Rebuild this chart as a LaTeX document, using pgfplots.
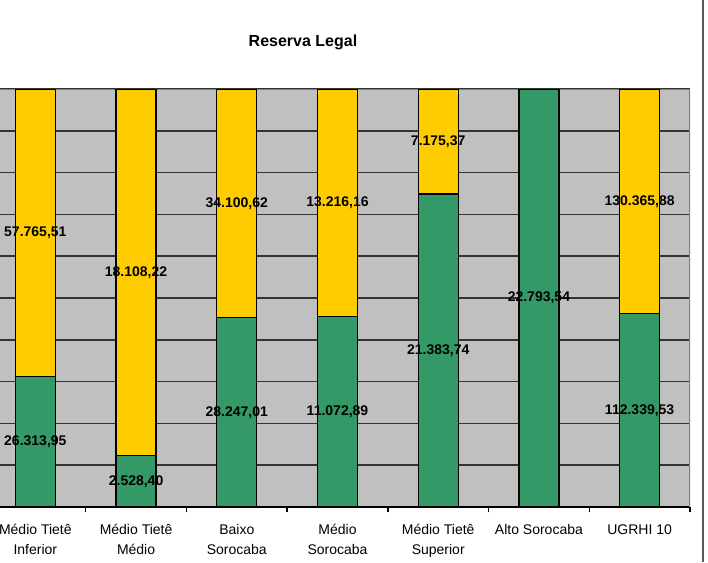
\documentclass[border=0pt]{standalone}
\usepackage{pgfplots}
\pgfplotsset{compat=1.18}
\usepackage{pgfplotstable}
\usepackage{fontspec}
\setmainfont{Liberation Sans}

\definecolor{amarelo}{HTML}{FFCC00}
\definecolor{verde}{HTML}{339966}
\definecolor{fundo}{HTML}{C0C0C0}

% hectares por UGRHI: verde = averbada, amarelo = a averbar
\pgfplotstableread{
idx verde amarelo
0 26313.95 57765.51
1 2528.40 18108.22
2 28247.01 34100.62
3 11072.89 13216.16
4 21383.74 7175.37
5 22793.54 0
6 112339.53 130365.88
}\dados

\pgfplotsset{
  base/.style={
    scale only axis,
    width=528.75pt, height=313.5pt,
    at={(-11.25pt,41.25pt)}, anchor=south west,
    xmin=-0.5, xmax=6.5, ymin=0, ymax=100,
  },
}
\newcommand{\al}{\vphantom{Ê}}

\begin{document}
\begin{tikzpicture}[x=0.75pt, y=0.75pt]
\path[use as bounding box, fill=white] (0,0) rectangle (708,562);

\begin{axis}[
  base,
  ybar stacked,
  bar width=30pt,
  axis background/.style={fill=fundo},
  ymajorgrids=true,
  ytick={0,10,...,100},
  yticklabels={},
  major y tick style={draw=none},
  major grid style={black!80, line width=1.1pt},
  axis x line*=bottom,
  axis y line*=left,
  y axis line style={draw=none},
  xtick={0,...,6},
  xticklabels={{\al Médio Tietê\\Inferior},{\al Médio Tietê\\Médio},{\al Baixo\\Sorocaba},{\al Médio\\Sorocaba},{\al Médio Tietê\\Superior},{\al Alto Sorocaba},{\al UGRHI 10}},
  xticklabel style={align=center, font=\fontsize{10.5}{15}\selectfont, yshift=-4pt},
  major x tick style={draw=none},
  minor xtick={-0.5,0.5,...,6.5},
  minor tick length=4pt,
  tick align=outside,
  minor x tick style={black, line width=1pt},
  x axis line style={black, line width=1pt},
]
\addplot[fill=verde, draw=black, line width=1pt] table[x=idx, y expr=100*\thisrow{verde}/(\thisrow{verde}+\thisrow{amarelo})] {\dados};
\addplot[fill=amarelo, draw=black, line width=1pt] table[x=idx, y expr=100*\thisrow{amarelo}/(\thisrow{verde}+\thisrow{amarelo})] {\dados};
\draw[gray, line width=1pt] (rel axis cs:0,1) -- (rel axis cs:1,1) -- (rel axis cs:1,0);
\end{axis}

\begin{axis}[
  base,
  hide axis,
  nodes near coords={\pgfmathfloatifflags{\pgfplotspointmeta}{0}{}{\pgfmathprintnumber{\pgfplotspointmeta}}},
  nodes near coords align={center},
  every node near coord/.append style={font=\fontsize{10.5}{12}\selectfont\bfseries, text=black},
  /pgf/number format/fixed,
  /pgf/number format/precision=2,
  /pgf/number format/fixed zerofill,
  /pgf/number format/use comma,
  /pgf/number format/1000 sep={.},
  /pgf/number format/assume math mode=true,
]
\addplot[draw=none, mark=none, point meta=\thisrow{verde}] table[x=idx, y expr=50*\thisrow{verde}/(\thisrow{verde}+\thisrow{amarelo})] {\dados};
\addplot[draw=none, mark=none, point meta=\thisrow{amarelo}] table[x=idx, y expr=100*(\thisrow{verde}+0.5*\thisrow{amarelo})/(\thisrow{verde}+\thisrow{amarelo})] {\dados};
\end{axis}

\node[font=\fontsize{12}{14}\selectfont\bfseries] at (303,520) {Reserva Legal};
\draw[gray!70!black, line width=0.8pt] (703,0) -- (703,562);
\end{tikzpicture}
\end{document}
